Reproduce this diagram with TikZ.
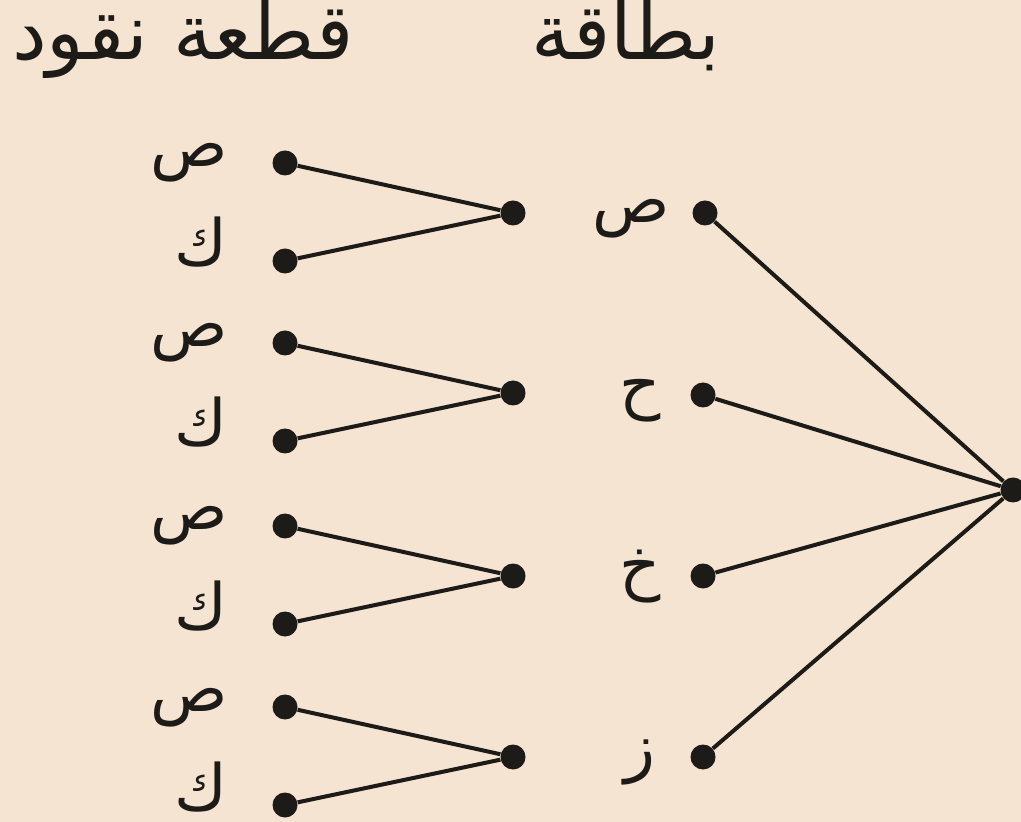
\documentclass[tikz,border=0pt]{standalone}
\usepackage{fontspec}
\newfontfamily\arabicfont[Script=Arabic]{DejaVu Sans}
\TeXXeTstate=1
\definecolor{paper}{RGB}{245,228,209}
\definecolor{ink}{RGB}{28,27,24}

\begin{document}
\begin{tikzpicture}[x=0.5pt,y=-0.5pt,
  dot/.style={circle,fill=ink,inner sep=0pt,minimum size=12.5pt},
  lbl/.style={text=ink,inner sep=0pt,text depth=0pt,font=\arabicfont\fontsize{32}{36}\selectfont},
  head/.style={text=ink,inner sep=0pt,font=\arabicfont\fontsize{39}{44}\selectfont},
  branch/.style={draw=ink,line width=2pt}]
  \fill[paper] (0,0) rectangle (1021,822);
  \useasboundingbox (0,0) rectangle (1021,822);

  % headers
  \node[head,anchor=base] (coinhead) at (183,60) {\beginR قطعة نقود\endR};
  \node[head,anchor=base] (cardhead) at (626,60) {\beginR بطاقة\endR};

  % card
  \node[dot] (root) at (1013,490) {};
  \node[dot] (c1) at (705,213) {};
  \node[dot] (c2) at (703,395) {};
  \node[dot] (c3) at (703,576) {};
  \node[dot] (c4) at (703,757) {};
  \node[lbl,anchor=base] (cl1) at (631,223) {\beginR ص\endR};
  \node[lbl,anchor=base] (cl2) at (640,407) {\beginR ح\endR};
  \node[lbl,anchor=base] (cl3) at (640,588) {\beginR خ\endR};
  \node[lbl,anchor=base] (cl4) at (640,769) {\beginR ز\endR};
  \foreach \i in {1,...,4}
    \draw[branch] (c\i) -- (root);

  % coin
  \foreach \i/\y in {1/213,2/393,3/576,4/757}{
    \node[dot] (m\i) at (513,\y) {};
    \node[dot] (h\i) at (285,\y-50) {};
    \node[dot] (t\i) at (285,\y+48) {};
    \node[lbl,anchor=base east] (hl\i) at (228,\y-46) {\beginR ص\endR};
    \node[lbl,anchor=base east] (tl\i) at (228,\y+53) {\beginR ك\endR};
    \draw[branch] (h\i) -- (m\i) -- (t\i);
  }
\end{tikzpicture}
\end{document}
